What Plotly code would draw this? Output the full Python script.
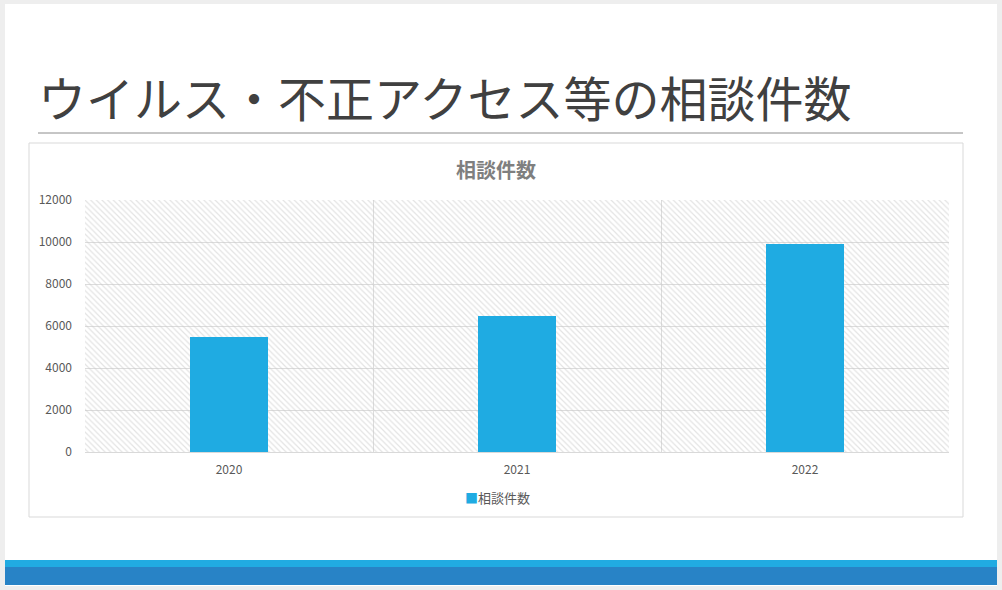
import plotly.graph_objects as go

# data
years = ["2020", "2021", "2022"]
counts = [5460, 6480, 9890]
series_name = "相談件数"
slide_title = "ウイルス・不正アクセス等の相談件数"
y_max = 12000
y_ticks = [0, 2000, 4000, 6000, 8000, 10000, 12000]

# plot area in page pixels
L, T, W, H = 85, 200, 864, 252


def px_rect(x0, y0, x1, y1, **kw):
    # page pixels -> paper coords
    return dict(type="rect", xref="paper", yref="paper",
                x0=(x0 - L) / W, x1=(x1 - L) / W,
                y0=(T + H - y0) / H, y1=(T + H - y1) / H, **kw)


def px_line(x0, y0, x1, y1, **kw):
    return dict(type="line", xref="paper", yref="paper",
                x0=(x0 - L) / W, x1=(x1 - L) / W,
                y0=(T + H - y0) / H, y1=(T + H - y1) / H, **kw)


fig = go.Figure()

# hatched plot-area background (one bar spanning all categories)
fig.add_trace(go.Bar(
    x=[years[1]], y=[y_max], width=len(years),
    marker=dict(color="rgba(0,0,0,0)", line=dict(width=0),
                pattern=dict(shape="\\", fgcolor="#c8c8c8", size=4, solidity=0.3,
                             fillmode="overlay")),
    showlegend=False, hoverinfo="skip",
))

fig.add_trace(go.Bar(
    x=years, y=counts, name=series_name, width=0.27,
    marker=dict(color="#1FABE2", line=dict(width=0)),
    showlegend=False,
))

shapes = [
    px_rect(5, 4, 997, 586, layer="below", line_width=0, fillcolor="white"),
    px_rect(29, 143, 963, 517, layer="below", line=dict(color="#d9d9d9", width=1),
            fillcolor="white"),
    px_line(38, 133, 963, 133, line=dict(color="#8c8c8c", width=1)),
    px_rect(5, 560, 997, 567, line_width=0, fillcolor="#21ABE2"),
    px_rect(5, 567, 997, 585, line_width=0, fillcolor="#2883C6"),
]

fig.update_layout(
    width=1002, height=590,
    margin=dict(l=L, r=1002 - L - W, t=T, b=590 - T - H),
    paper_bgcolor="#eeeeee",
    plot_bgcolor="rgba(0,0,0,0)",
    barmode="overlay",
    bargap=0,
    font=dict(family="Noto Sans CJK JP", color="#595959", size=12),
    shapes=shapes,
    showlegend=False,
    xaxis=dict(type="category", categoryorder="array", categoryarray=years,
               tickson="boundaries", showgrid=True, gridcolor="#dcdcdc",
               ticks="", showline=True, linecolor="#d9d9d9", tickfont=dict(size=12),
               ticklabelstandoff=7, range=[-0.5, 2.5], fixedrange=True),
    yaxis=dict(range=[0, y_max], tickvals=y_ticks, tickformat="d", showgrid=True,
               gridcolor="#dcdcdc", zeroline=False, showline=False, ticks="",
               ticklabelstandoff=12, tickfont=dict(size=12)),
    annotations=[
        dict(text=slide_title, xref="paper", yref="paper", x=(36 - L) / W,
             y=(T + H - 96) / H, xanchor="left", yanchor="middle", showarrow=False,
             font=dict(family="Noto Sans CJK JP", size=48, color="#404040")),
        dict(text="<b>" + series_name + "</b>", xref="paper", yref="paper",
             x=(496 - L) / W, y=(T + H - 169) / H, xanchor="center", yanchor="middle",
             showarrow=False, font=dict(family="Noto Sans CJK JP", size=20, color="#7f7f7f")),
        # legend
        dict(text="<span style='color:#1FABE2'>■</span>" + series_name, xref="paper",
             yref="paper", x=(497 - L) / W, y=(T + H - 497) / H, xanchor="center",
             yanchor="middle", showarrow=False,
             font=dict(family="Noto Sans CJK JP", size=13, color="#595959")),
    ],
)

fig.write_html("out.html", config={"displayModeBar": False},
               post_script="document.body.style.margin='0';")
